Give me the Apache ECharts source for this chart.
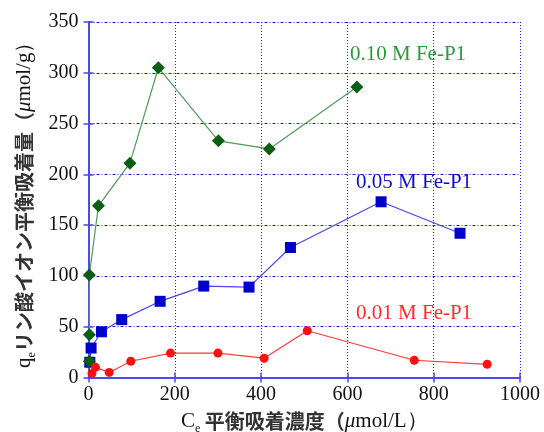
<!DOCTYPE html>
<html>
<head>
<meta charset="utf-8">
<script src="https://cdn.jsdelivr.net/npm/echarts@6/dist/echarts.min.js"></script>
<style>html,body{margin:0;padding:0;background:#fff;}#c{width:544px;height:432px;}</style>
</head>
<body>
<div id="c"></div>
<script>
// Data
var greenX = [2, 2, 2, 23, 96, 162, 301, 419, 622];
var greenY = [16, 42, 101, 169, 211, 305, 233, 225, 286];
var blueX = [3, 6, 30, 77, 166, 267, 372, 468, 678, 861];
var blueY = [15, 29, 45, 57, 75, 90, 89, 128, 173, 142];
var redX = [8, 16, 48, 98, 190, 300, 407, 507, 755, 924];
var redY = [4, 10, 5, 16, 24, 24, 19, 46, 17, 13];
var seriesNames = ['0.10 M Fe-P1', '0.05 M Fe-P1', '0.01 M Fe-P1'];
var xTicks = [0, 200, 400, 600, 800, 1000];
var yTicks = [0, 50, 100, 150, 200, 250, 300, 350];

function pairs(xs, ys) { return xs.map(function (x, i) { return [x, ys[i]]; }); }

var serif = '"Liberation Serif", "Times New Roman", serif';
var jp = '"Noto Sans CJK JP", sans-serif';
var axisColor = '#4b4be6';
var gridColor = '#1a1aff';

var chart = echarts.init(document.getElementById('c'), null, {renderer: 'canvas'});

var tickStyle = {show: true, inside: true, length: 5, lineStyle: {color: axisColor, width: 1.5}};
var baseX = {
  type: 'value', min: xTicks[0], max: xTicks[xTicks.length - 1], interval: 200
};
var baseY = {
  type: 'value', min: yTicks[0], max: yTicks[yTicks.length - 1], interval: 50
};
function plain(v) { return String(v); }

var richName = {
  a: {fontFamily: serif, fontSize: 21, color: '#111'},
  s: {fontFamily: serif, fontSize: 12, color: '#111', padding: [14, 0, 0, 0]},
  j: {fontFamily: jp, fontSize: 20, color: '#333', fontWeight: 'bold'},
  m: {fontFamily: serif, fontSize: 21, fontStyle: 'italic', color: '#111'}
};

var option = {
  animation: false,
  backgroundColor: '#fff',
  grid: {left: 88.5, right: 24, top: 22, bottom: 54.5, containLabel: false, outerBoundsMode: 'none'},
  xAxis: [
    Object.assign({}, baseX, {
      position: 'bottom',
      axisLine: {show: true, lineStyle: {color: axisColor, width: 2}},
      axisTick: tickStyle,
      axisLabel: {color: '#111', fontFamily: serif, fontSize: 20, margin: 7, formatter: plain},
      splitLine: {show: true, lineStyle: {color: gridColor, width: 1, type: [1, 2], opacity: 1}},
      name: '{a|C}{s|e}{j| 平衡吸着濃度（}{m|μ}{a|mol/L）}',
      nameLocation: 'middle',
      nameGap: 31,
      nameTextStyle: {rich: richName}
    }),
    Object.assign({}, baseX, {
      position: 'top',
      axisLine: {show: true, lineStyle: {color: axisColor, width: 2}},
      axisTick: tickStyle,
      axisLabel: {show: false},
      splitLine: {show: false}
    })
  ],
  yAxis: [
    Object.assign({}, baseY, {
      position: 'left',
      axisLine: {show: true, lineStyle: {color: axisColor, width: 2}},
      axisTick: tickStyle,
      axisLabel: {color: '#111', fontFamily: serif, fontSize: 20, margin: 10, formatter: plain},
      splitLine: {show: true, lineStyle: {color: gridColor, width: 1, type: [3, 2, 1, 2], opacity: 1}},
      name: '{a|q}{s|e}{j|リン酸イオン平衡吸着量（}{m|μ}{a|mol/g）}',
      nameLocation: 'middle',
      nameRotate: 90,
      nameGap: 50,
      nameTextStyle: {rich: richName}
    }),
    Object.assign({}, baseY, {
      position: 'right',
      axisLine: {show: true, lineStyle: {color: axisColor, width: 2}},
      axisTick: tickStyle,
      axisLabel: {show: false},
      splitLine: {show: false}
    })
  ],
  series: [
    {
      name: seriesNames[1], type: 'line', data: pairs(blueX, blueY),
      symbol: 'rect', symbolSize: 11,
      itemStyle: {color: '#0000cd'},
      lineStyle: {color: '#4646f0', width: 1.2}
    },
    {
      name: seriesNames[0], type: 'line', data: pairs(greenX, greenY),
      symbol: 'diamond', symbolSize: 13,
      itemStyle: {color: '#0a5e14'},
      lineStyle: {color: '#4f9a5c', width: 1.2}
    },
    {
      name: seriesNames[2], type: 'line', data: pairs(redX, redY),
      symbol: 'circle', symbolSize: 9,
      itemStyle: {color: '#ff1010'},
      lineStyle: {color: '#ff3a3a', width: 1.2}
    }
  ]
};
chart.setOption(option);

// series labels anchored in data coordinates
var labelAnchors = [[606, 317], [620, 191], [620, 62]];
var labelColors = ['#2b9a3b', '#1010d0', '#ff2a2a'];
var graphics = labelAnchors.map(function (a, i) {
  var p = chart.convertToPixel({xAxisIndex: 0, yAxisIndex: 0}, a);
  return {
    type: 'text', left: p[0], top: p[1] - 12,
    style: {text: seriesNames[i], fill: labelColors[i], font: '21px ' + serif}
  };
});
chart.setOption({graphic: graphics});
</script>
</body>
</html>
